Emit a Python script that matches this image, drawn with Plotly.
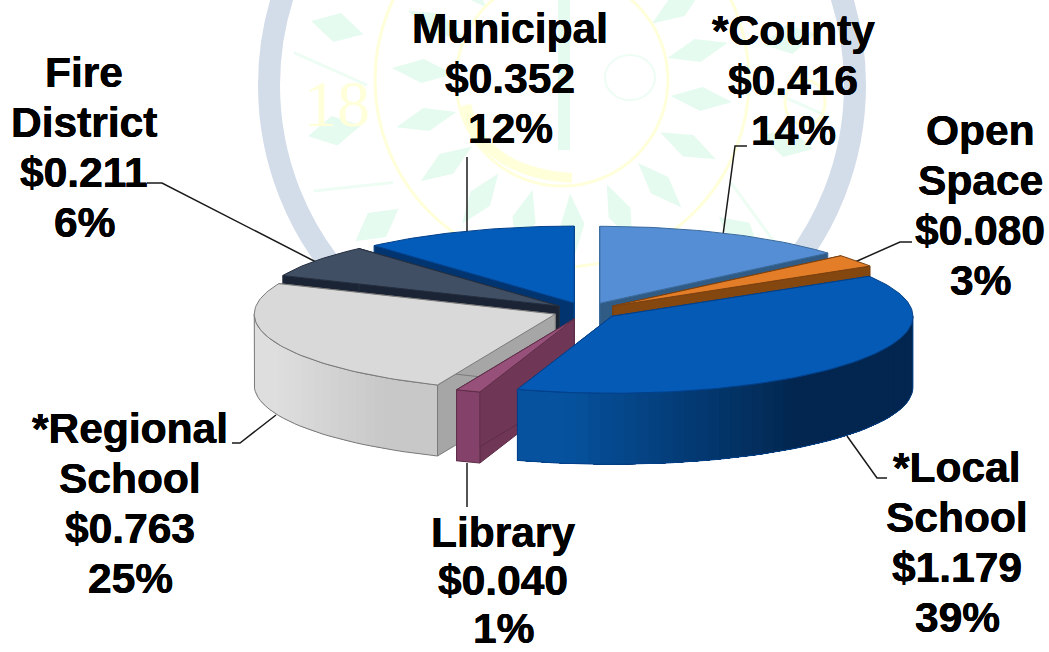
import math
import plotly.graph_objects as go

# ---- data ----
categories = ["*County", "Open Space", "*Local School", "Library", "*Regional School", "Fire District", "Municipal"]
values = [0.416, 0.080, 1.179, 0.040, 0.763, 0.211, 0.352]
percents = ["14%", "3%", "39%", "1%", "25%", "6%", "12%"]
amounts = ["$0.416", "$0.080", "$1.179", "$0.040", "$0.763", "$0.211", "$0.352"]
label_lines = [
    ["*County"], ["Open", "Space"], ["*Local", "School"], ["Library"],
    ["*Regional", "School"], ["Fire", "District"], ["Municipal"],
]
top_colors = ["#558ED5", "#E37D28", "#045AB4", "#97507A", "#D9D9D9", "#414F64", "#045CBA"]
wall_colors = ["#2F5B84", "#84470F", "#03418A", "#6F3655", "#A6A6A6", "#1A2435", "#02356F"]
edge_colors = ["#3A6A9C", "#7A4010", "#03408A", "#5E2E48", "#7A7A7A", "#252F40", "#03408A"]
side_left = ["#3A6A9C", "#84470F", "#06529F", "#84426A", "#DEDEDE", "#1A2435", "#02356F"]
side_right = ["#3A6A9C", "#84470F", "#02264F", "#84426A", "#C8C8C8", "#1A2435", "#02356F"]
draw_order = [6, 0, 5, 1, 4, 3, 2]

# label block anchors: centre x, y of first line, line gap
label_x = [793, 980, 957, 503, 130, 84, 510]
label_y = [30, 130, 467, 532, 428, 72, 28]
line_gaps = [50.3, 50.3, 50.3, 48, 50.3, 50.3, 50.3]

leaders_x = [[747, 735, 723], [912, 900, 855], [887, 877, 847], [467, 467],
             [232, 240, 276], [147, 162, 316], [467, 467]]
leaders_y = [[146, 146, 235], [242, 242, 262], [478, 478, 436], [463, 507],
             [443, 443, 415], [183, 183, 262], [157, 232]]

# ---- pie projection ----
CX, CY, RX, RY, DEPTH, EXPLODE = 586, 311, 301, 77, 71, 0.11
total = sum(values)


def hex2rgb(h):
    return tuple(int(h[i:i + 2], 16) for i in (1, 3, 5))


def mix(a, b, t):
    t = max(0, min(1, t))
    ca, cb = hex2rgb(a), hex2rgb(b)
    return "rgb(%d,%d,%d)" % tuple(round(ca[i] + (cb[i] - ca[i]) * t) for i in range(3))


def rim(ax, ay, th):
    return ax + RX * math.sin(th), ay - RY * math.cos(th)


def poly(xs, ys, fill, line, width=1.0):
    return go.Scatter(x=xs, y=ys, mode="lines", fill="toself", fillcolor=fill,
                      line=dict(color=line, width=width), hoverinfo="skip", showlegend=False)


fig = go.Figure()

# leader lines
for lx, ly in zip(leaders_x, leaders_y):
    fig.add_trace(go.Scatter(x=lx, y=ly, mode="lines", line=dict(color="#1A1A1A", width=1.5),
                             hoverinfo="skip", showlegend=False))

starts = []
acc = 0.0
for v in values:
    starts.append(acc)
    acc += v / total

for i in draw_order:
    t0 = starts[i] * 2 * math.pi
    t1 = t0 + values[i] / total * 2 * math.pi
    mid = (t0 + t1) / 2
    ax = CX + EXPLODE * RX * math.sin(mid)
    ay = CY - EXPLODE * RY * math.cos(mid)
    # radial walls
    for t in (t0, t1):
        px, py = rim(ax, ay, t)
        fig.add_trace(poly([ax, px, px, ax, ax], [ay, py, py + DEPTH, ay + DEPTH, ay],
                           wall_colors[i], edge_colors[i]))
    # outer face (front half only), shaded in overlapping strips so no seams show
    a0, a1 = max(t0, math.pi / 2), min(t1, 3 * math.pi / 2)
    if a1 > a0:
        n = max(2, int((a1 - a0) / 0.04))
        angles = [a0 + (a1 - a0) * k / n for k in range(n + 1)]
        pts = [rim(ax, ay, a) for a in angles]
        xs_all = [p[0] for p in pts]
        lo, hi = min(xs_all), max(xs_all)
        for k in range(n):
            part = pts[k:]
            x_mid = (pts[k][0] + pts[k + 1][0]) / 2
            shade = mix(side_left[i], side_right[i], ((x_mid - lo) / max(hi - lo, 1) - 0.12) * 1.7)
            px_ = [p[0] for p in part]
            py_ = [p[1] for p in part]
            fig.add_trace(go.Scatter(
                x=px_ + px_[::-1] + [px_[0]],
                y=py_ + [q + DEPTH for q in py_[::-1]] + [py_[0]],
                mode="lines", fill="toself", fillcolor=shade, line=dict(width=0),
                hoverinfo="skip", showlegend=False))
        outline_x = xs_all + xs_all[::-1] + [xs_all[0]]
        outline_y = [p[1] for p in pts] + [p[1] + DEPTH for p in pts[::-1]] + [pts[0][1]]
        fig.add_trace(go.Scatter(x=outline_x, y=outline_y, mode="lines",
                                 line=dict(color=edge_colors[i], width=1),
                                 hoverinfo="skip", showlegend=False))
    # top face
    n = max(3, int((t1 - t0) / 0.02))
    arc = [rim(ax, ay, t0 + (t1 - t0) * k / n) for k in range(n + 1)]
    fig.add_trace(poly([ax] + [p[0] for p in arc] + [ax], [ay] + [p[1] for p in arc] + [ay],
                       top_colors[i], edge_colors[i]))

# labels, one annotation per line
for i in range(len(categories)):
    lines = label_lines[i] + [amounts[i], percents[i]]
    for k, text in enumerate(lines):
        fig.add_annotation(x=label_x[i], y=label_y[i] + k * line_gaps[i], text=text, showarrow=False,
                           xanchor="center", yanchor="middle",
                           font=dict(family="Liberation Sans", size=42.5, color="#000000", weight=700,
                                     shadow="0.3px 0 0 #000, -0.3px 0 0 #000"))

# ---- faint seal behind the chart (decoration) ----
SEAL_X, SEAL_Y = 562, 85
shapes = []
GREEN, YELLOW, RING = "#E6FBEF", "#FFFFD9", "#D3DCE9"


def leaf(r, ang, length, width):
    c, s = math.cos(ang), math.sin(ang)
    x0, y0 = SEAL_X + c * (r - length / 2), SEAL_Y + s * (r - length / 2)
    x1, y1 = SEAL_X + c * (r + length / 2), SEAL_Y + s * (r + length / 2)
    xm, ym = SEAL_X + c * r, SEAL_Y + s * r
    return dict(type="path", layer="below", line=dict(width=0), fillcolor=GREEN,
                path=f"M{x0:.1f},{y0:.1f} L{xm - s * width:.1f},{ym + c * width:.1f} "
                     f"L{x1:.1f},{y1:.1f} L{xm + s * width:.1f},{ym - c * width:.1f} Z")


for k in range(18):
    shapes.append(leaf(140, k * math.pi / 9 + 0.1, 62, 12))
for k in range(14):
    shapes.append(leaf(232, k * math.pi / 7 + 0.25, 54, 15))
for k in range(12):
    a = k * math.pi / 6
    shapes.append(dict(type="line", layer="below", line=dict(color="#EEFDF4", width=3),
                       x0=SEAL_X + 195 * math.cos(a), y0=SEAL_Y + 195 * math.sin(a),
                       x1=SEAL_X + 270 * math.cos(a + 0.12), y1=SEAL_Y + 270 * math.sin(a + 0.12)))
shapes.append(dict(type="rect", layer="below", line=dict(width=0), fillcolor=GREEN,
                   x0=SEAL_X - 4, x1=SEAL_X + 8, y0=0, y1=150))
shapes.append(dict(type="circle", layer="below", line=dict(color="#EEFDF4", width=2),
                   x0=605, x1=655, y0=55, y1=100))
shapes.append(dict(type="circle", layer="below", line=dict(color=RING, width=22),
                   x0=SEAL_X - 293, x1=SEAL_X + 293, y0=SEAL_Y - 293, y1=SEAL_Y + 293))
for r in (187, 106):
    shapes.append(dict(type="circle", layer="below", line=dict(color=YELLOW, width=3),
                       x0=SEAL_X - r, x1=SEAL_X + r, y0=SEAL_Y - r - 5, y1=SEAL_Y + r - 5))
shapes.append(dict(type="path", layer="below", line=dict(color=YELLOW, width=10),
                   path="M 466,105 Q 482,172 572,178"))
shapes.append(dict(type="circle", layer="below", line=dict(color=YELLOW, width=3),
                   x0=785, x1=825, y0=80, y1=125))
fig.add_annotation(x=337, y=103, text="18", showarrow=False, xanchor="center", yanchor="middle",
                   font=dict(family="Liberation Serif", size=66, color=YELLOW))

fig.update_layout(
    width=1049, height=652, autosize=False, margin=dict(l=0, r=0, t=0, b=0),
    paper_bgcolor="white", plot_bgcolor="white", showlegend=False, shapes=shapes,
    xaxis=dict(range=[0, 1049], visible=False, fixedrange=True),
    yaxis=dict(range=[652, 0], visible=False, fixedrange=True),
)
fig.write_html("out.html", config=dict(displayModeBar=False),
               post_script="document.body.style.margin='0';document.body.style.overflow='hidden';")
